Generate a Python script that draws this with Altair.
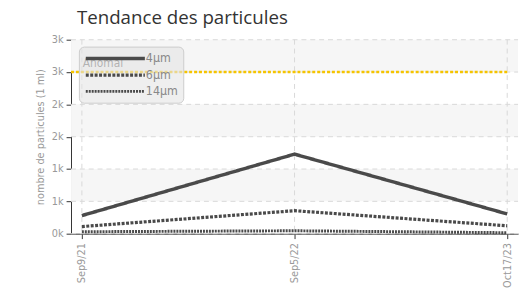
import altair as alt
import pandas as pd

dates = ["Sep9/21", "Sep5/22", "Oct17/23"]
p4 = [280, 1230, 305]
p6 = [110, 355, 122]
p14 = [30, 45, 15]
series_names = ["4µm", "6µm", "14µm"]
threshold = 2500
band_lo = [500, 1500, 2500]
band_hi = [1000, 2000, 3000]
y_ticks = [0, 500, 1000, 1500, 2000, 2500, 3000]

W, H = 454, 197
FONT = "DejaVu Sans Condensed, Roboto"

rows = []
for name, vals in zip(series_names, [p4, p6, p14]):
    for d, v in zip(dates, vals):
        rows.append({"date": d, "value": v, "serie": name})
df = pd.DataFrame(rows)
bands = pd.DataFrame({"lo": band_lo, "hi": band_hi})
thr = pd.DataFrame({"y": [threshold]})

xscale = alt.Scale(type="point", domain=dates, padding=0.051)
yscale = alt.Scale(domain=[0, 3000], nice=False)

xaxis = alt.Axis(title=None, labelAngle=-90, labelColor="#999999",
                 labelFont=FONT, labelFontSize=11, tickColor="#333333",
                 tickSize=5, domainColor="#333333", grid=False,
                 labelPadding=4, labelOverlap=False)
yaxis = alt.Axis(title="nombre de particules (1 ml)", values=y_ticks,
                 labelExpr="round(datum.value/1000) + 'k'",
                 labelColor="#999999", labelFont=FONT, labelFontSize=11,
                 titleColor="#999999", titleFont=FONT, titleFontSize=11,
                 titleFontWeight="normal", titlePadding=6,
                 tickColor="#333333", tickSize=5, domainColor="#333333",
                 grid=False, labelPadding=3, labelOverlap=False,
                 labelFlush=False)

band_layer = alt.Chart(bands).mark_rect(color="#f6f6f6").encode(
    x=alt.value(0), x2=alt.value(W),
    y=alt.Y("lo:Q", scale=yscale, axis=yaxis), y2="hi:Q",
)

grid_x = alt.Chart(pd.DataFrame({"date": dates})).mark_rule(
    color="#d8d8d8", strokeDash=[5, 4], strokeWidth=1
).encode(x=alt.X("date:N", scale=xscale, sort=dates, axis=xaxis))

grid_y = alt.Chart(pd.DataFrame({"v": y_ticks})).mark_rule(
    color="#d8d8d8", strokeDash=[5, 4], strokeWidth=1
).encode(y=alt.Y("v:Q", scale=yscale, axis=yaxis), x=alt.value(0), x2=alt.value(W))

thr_layer = alt.Chart(thr).mark_rule(
    color="#f5c400", strokeDash=[3, 2], strokeWidth=2.5
).encode(
    y=alt.Y("y:Q", scale=yscale, axis=yaxis),
    x=alt.value(0),
    x2=alt.value(W - 9),
)

anomal = alt.Chart(pd.DataFrame({"t": ["Anomal"]})).mark_text(
    align="left", baseline="middle", font=FONT, fontSize=12, color="#666666"
).encode(text="t:N", x=alt.value(12), y=alt.value(24))

lines = alt.Chart(df).mark_line(color="#4a4a4a").encode(
    x=alt.X("date:N", scale=xscale, sort=dates, axis=xaxis),
    y=alt.Y("value:Q", scale=yscale, axis=yaxis),
    strokeDash=alt.StrokeDash("serie:N",
        scale=alt.Scale(domain=series_names, range=[[1, 0], [3, 1.5], [2, 1]]),
        legend=alt.Legend(title=None, orient="none", legendX=8, legendY=7,
                          symbolType="M-1,0H11", symbolSize=100,
                          labelOffset=49, labelFont=FONT, labelFontSize=12.5,
                          labelColor="#888888",
                          fillColor="rgba(228,228,228,0.6)",
                          strokeColor="#cccccc", cornerRadius=5, padding=5,
                          rowPadding=3, symbolStrokeColor="#4a4a4a")),
    strokeWidth=alt.StrokeWidth("serie:N",
        scale=alt.Scale(domain=series_names, range=[3.5, 3, 2.2]),
        legend=None),
    detail="serie:N",
)

chart = alt.layer(band_layer, grid_x, grid_y, thr_layer, anomal, lines).properties(
    width=W, height=H,
    title=alt.TitleParams("Tendance des particules", anchor="start", fontSize=19,
                          font="Open Sans", fontWeight="normal", color="#333333",
                          dx=6, offset=6, frame="group"),
    autosize=alt.AutoSizeParams(type="none"),
    padding={"left": 64, "top": 30, "right": 4, "bottom": 55},
).configure_view(stroke=None)

chart.save("out.html", embed_options={"renderer": "svg", "actions": False})
